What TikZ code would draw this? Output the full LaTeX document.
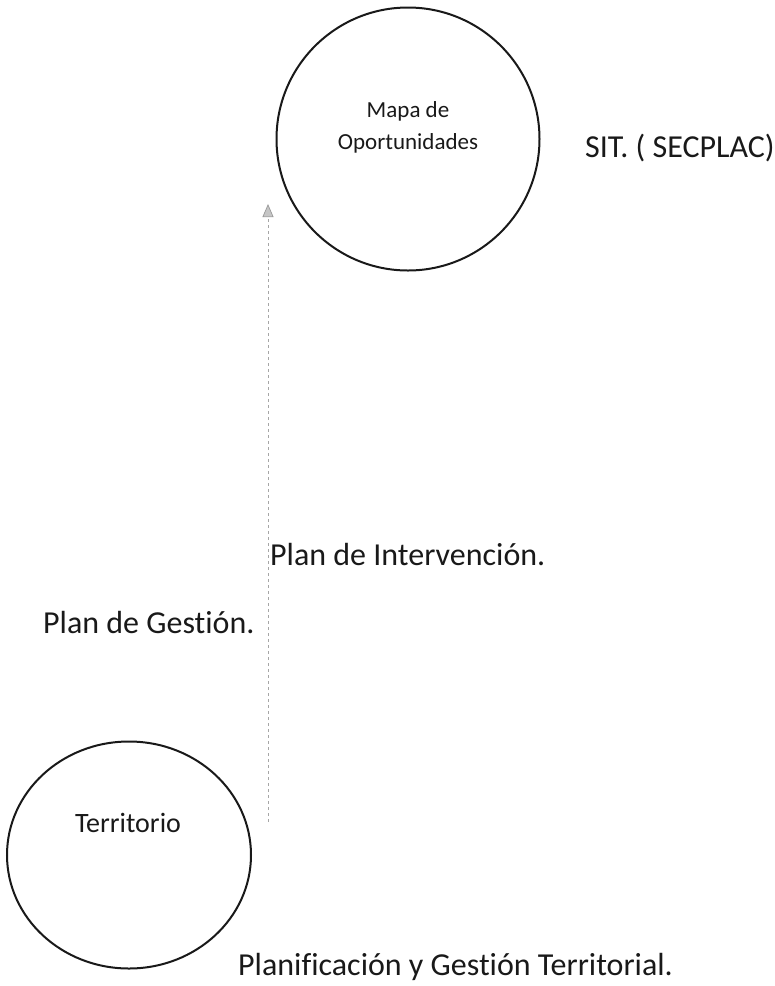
\documentclass[tikz,border=0pt]{standalone}
\usepackage{fontspec}
\setmainfont{Carlito}[Ligatures=NoCommon]
\usetikzlibrary{arrows.meta,shapes.geometric}
\tikzset{
  bubble/.style={draw=black!90, line width=2pt},
  lbl/.style={inner sep=0pt, anchor=base west, text=black!90},
  big/.style={lbl, font=\fontsize{32}{38}\selectfont},
  flow/.style={draw=gray!70, line width=0.7pt, dash pattern=on 3pt off 3pt,
    -{Triangle[length=13pt,width=11pt,fill=gray!45,color=gray!80]}}
}
\begin{document}
\begin{tikzpicture}[x=1pt,y=-1pt]
\useasboundingbox (0,0) rectangle (775,986);
% circles
\node[bubble, circle, minimum size=263pt, inner sep=0pt] (mapa) at (408,139) {};
\node[bubble, ellipse, minimum width=244pt, minimum height=227pt, inner sep=0pt] (terr) at (129,855) {};
% texts inside
\node[lbl, anchor=base, font=\fontsize{23}{28}\selectfont] (mapa1) at (408,117) {Mapa de};
\node[lbl, anchor=base, font=\fontsize{23}{28}\selectfont] (mapa2) at (408,149) {Oportunidades};
\node[lbl, anchor=base, font=\fontsize{28}{34}\selectfont] (terrt) at (128,832) {Territorio};
% labels
\node[big] (sit) at (585,157) {SIT. ( SECPLAC)};
\node[big] (pint) at (270,565) {Plan de Intervención.};
\node[big] (pges) at (43,633) {Plan de Gestión.};
\node[big] (pgt) at (238,975) {Planificación y Gestión Territorial.};
% arrow
\coordinate (a0) at (268,822);
\coordinate (a1) at (268,204);
\draw[flow] (a0) -- (a1);
\end{tikzpicture}
\end{document}
